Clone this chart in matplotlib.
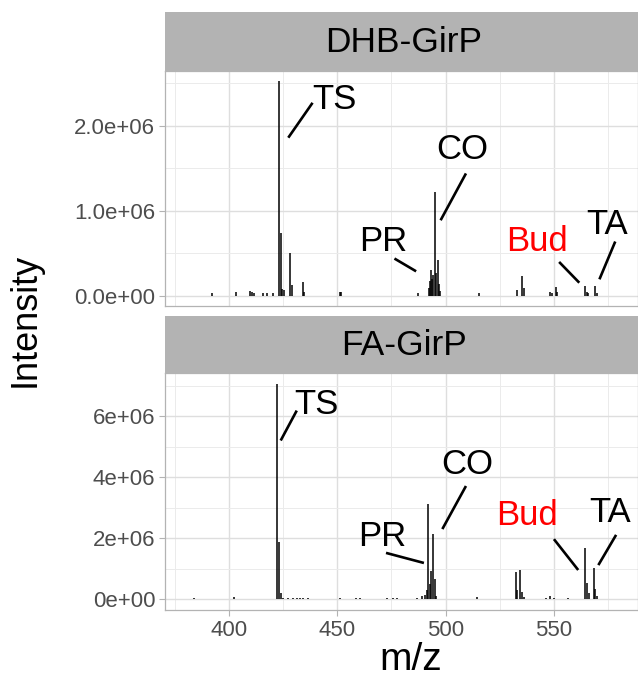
import numpy as np
import matplotlib
matplotlib.use("Agg")
import matplotlib.pyplot as plt
from matplotlib.ticker import MultipleLocator, FixedLocator, FuncFormatter

plt.rcParams['font.family'] = ['Liberation Sans', 'DejaVu Sans']

# DHB-GirP spectrum (m/z, intensity)
dhb_mz = [392.0, 403.2, 409.7, 410.5, 411.8, 415.8, 417.8, 420.2, 423.1, 424.0,
          424.6, 425.2, 428.0, 429.1, 434.0, 434.8, 451.2, 451.9, 487.3, 492.5,
          492.9, 493.4, 493.9, 494.4, 495.3, 495.8, 496.3, 496.8, 497.4, 515.4,
          533.1, 535.3, 536.2, 548.2, 549.1, 551.0, 551.5, 564.4, 565.1, 565.9,
          569.0, 569.8]
dhb_int = [0.03e6, 0.05e6, 0.06e6, 0.05e6, 0.04e6, 0.03e6, 0.03e6, 0.03e6, 2.53e6, 0.74e6,
           0.08e6, 0.07e6, 0.51e6, 0.13e6, 0.16e6, 0.05e6, 0.05e6, 0.05e6, 0.03e6, 0.09e6,
           0.18e6, 0.31e6, 0.20e6, 0.25e6, 1.22e6, 0.27e6, 0.42e6, 0.14e6, 0.06e6, 0.03e6,
           0.07e6, 0.235e6, 0.09e6, 0.05e6, 0.04e6, 0.10e6, 0.05e6, 0.12e6, 0.05e6, 0.04e6,
           0.12e6, 0.04e6]

# FA-GirP spectrum (m/z, intensity)
fa_mz = [384.0, 388.3, 402.2, 422.2, 423.1, 424.2, 425.0, 427.4, 429.7, 431.3,
         432.8, 434.3, 436.3, 444.3, 451.2, 458.6, 460.5, 472.8, 475.9, 477.7,
         486.7, 489.1, 490.6, 491.5, 492.0, 492.6, 493.1, 494.2, 495.1, 495.8,
         514.6, 526.6, 532.3, 533.1, 534.2, 535.1, 536.0, 546.4, 548.2, 550.2,
         556.6, 564.4, 565.1, 566.0, 568.4, 569.1, 570.0]
fa_int = [0.05e6, 0.02e6, 0.08e6, 7.06e6, 1.89e6, 0.20e6, 0.05e6, 0.04e6, 0.04e6, 0.04e6,
          0.04e6, 0.04e6, 0.04e6, 0.02e6, 0.05e6, 0.05e6, 0.05e6, 0.04e6, 0.04e6, 0.04e6,
          0.03e6, 0.10e6, 0.15e6, 0.30e6, 3.12e6, 0.50e6, 0.94e6, 2.14e6, 0.66e6, 0.10e6,
          0.08e6, 0.02e6, 0.90e6, 0.30e6, 0.96e6, 0.25e6, 0.08e6, 0.03e6, 0.10e6, 0.05e6,
          0.03e6, 1.69e6, 0.55e6, 0.20e6, 1.02e6, 0.33e6, 0.10e6]

panel_titles = ['DHB-GirP', 'FA-GirP']
peak_labels = ['TS', 'PR', 'CO', 'Bud', 'TA']
label_colors = ['black', 'black', 'black', 'red', 'black']

# label placement: text (x, y), leader line (x0, y0, x1, y1)
dhb_text = [(448.9, 2.31e6), (471.3, 0.64e6), (507.8, 1.72e6), (542.2, 0.635e6), (574.5, 0.835e6)]
dhb_lines = [(427.4, 1.86e6, 438.6, 2.27e6), (476.4, 0.44e6, 486.4, 0.29e6),
             (497.7, 0.89e6, 509.4, 1.44e6), (552.4, 0.40e6, 561.7, 0.156e6),
             (578.3, 0.64e6, 571.0, 0.196e6)]
fa_text = [(440.2, 6.37e6), (470.9, 2.06e6), (509.9, 4.40e6), (537.6, 2.76e6), (575.9, 2.83e6)]
fa_lines = [(423.9, 5.2e6, 431.3, 6.18e6), (472.5, 1.52e6, 490.0, 1.19e6),
            (498.5, 2.3e6, 509.4, 3.71e6), (550.0, 1.97e6, 561.2, 0.96e6),
            (578.7, 2.11e6, 570.5, 1.12e6)]

W, H = 638, 691
fig = plt.figure(figsize=(W / 100, H / 100), dpi=100)

def frac(x0, y0, x1, y1):
    return [x0 / W, 1 - y1 / H, (x1 - x0) / W, (y1 - y0) / H]

#strip on top of a panel
def strip(box, title):
    s = fig.add_axes(box)
    s.set_facecolor('#B3B3B3')
    s.set_xticks([])
    s.set_yticks([])
    for sp in s.spines.values():
        sp.set_visible(False)
    s.text(0.505, 0.48, title, transform=s.transAxes, ha='center', va='center',
           fontsize=25.5, color='black')

#one spectrum panel
def panel(box, mz, inten, ylim, yticks, fmt, texts, lines, show_x):
    ax = fig.add_axes(box)
    ax.vlines(mz, 0, inten, color='black', lw=1.1, zorder=3)
    ax.set_xlim(370.5, 588.8)
    ax.set_ylim(*ylim)
    ax.xaxis.set_major_locator(FixedLocator([400, 450, 500, 550]))
    ax.xaxis.set_minor_locator(FixedLocator([375, 425, 475, 525, 575]))
    ax.yaxis.set_major_locator(FixedLocator(yticks))
    step = yticks[1] - yticks[0]
    ax.yaxis.set_minor_locator(MultipleLocator(step / 2))
    ax.yaxis.set_major_formatter(FuncFormatter(fmt))
    ax.grid(True, which='major', color='#DEDEDE', lw=1.0, zorder=0)
    ax.grid(True, which='minor', color='#EBEBEB', lw=0.7, zorder=0)
    ax.set_axisbelow(True)
    for sp in ax.spines.values():
        sp.set_color('#B3B3B3')
        sp.set_linewidth(0.9)
    ax.tick_params(which='major', length=4, color='#B3B3B3', labelcolor='#4D4D4D',
                   labelsize=16, pad=3)
    ax.tick_params(which='minor', length=0)
    if not show_x:
        ax.tick_params(axis='x', which='major', length=0, labelbottom=False)
    for lab, col, (tx, ty), (x0, y0, x1, y1) in zip(peak_labels, label_colors, texts, lines):
        ax.plot([x0, x1], [y0, y1], color='black', lw=1.9, zorder=4, solid_capstyle='butt')
        ax.text(tx, ty, lab, ha='center', va='center', fontsize=25, color=col, zorder=5)
    return ax

strip(frac(165, 12.3, 638, 70.7), panel_titles[0])
panel(frac(165, 70.7, 638, 305.7), dhb_mz, dhb_int, (-0.114e6, 2.647e6),
      [0, 1e6, 2e6], lambda v, p: '%.1e' % v, dhb_text, dhb_lines, False)

strip(frac(165, 316, 638, 372.7), panel_titles[1])
panel(frac(165, 372.7, 638, 610), fa_mz, fa_int, (-0.35e6, 7.42e6),
      [0, 2e6, 4e6, 6e6], lambda v, p: '%.0e' % v, fa_text, fa_lines, True)

fig.text(25 / W, 1 - 320 / H, 'Intensity', rotation=90, ha='center', va='center', fontsize=26)
fig.text(411 / W, 1 - 660 / H, 'm/z', ha='center', va='center', fontsize=28)

fig.savefig('out.png', dpi=100)
